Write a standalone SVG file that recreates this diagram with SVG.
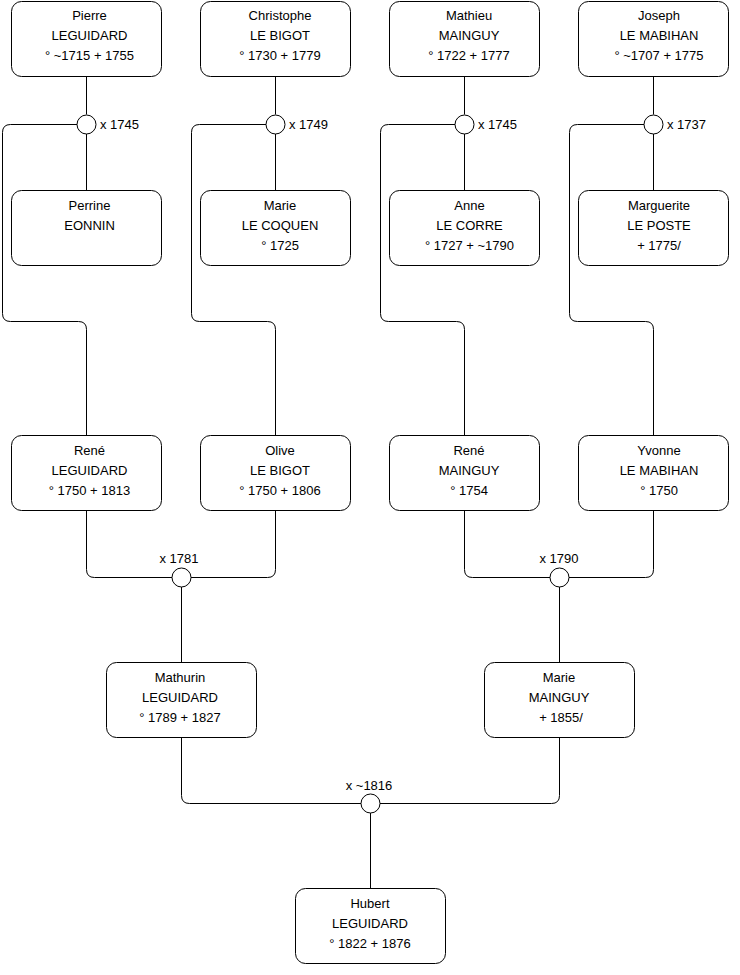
<svg xmlns="http://www.w3.org/2000/svg" width="740" height="975" viewBox="0 0 740 975">
<style>
.box{fill:#fff;stroke:#000;stroke-width:1}
.c{fill:#fff;stroke:#000;stroke-width:1}
.ln{fill:none;stroke:#000;stroke-width:1}
text{font-family:"Liberation Sans",Arial,sans-serif;font-size:13px;fill:#000}
.m{text-anchor:middle}
</style>
<rect width="740" height="975" fill="#fff"/>
<g id="connectors">
<path class="ln" d="M86.5,76 V114.5 M86.5,133.5 V190"/>
<path class="ln" d="M275.5,76 V114.5 M275.5,133.5 V190"/>
<path class="ln" d="M464.5,76 V114.5 M464.5,133.5 V190"/>
<path class="ln" d="M653.5,76 V114.5 M653.5,133.5 V190"/>
<path class="ln" d="M77,124.5 H10.5 Q2.5,124.5 2.5,132.5 V313.5 Q2.5,321.5 10.5,321.5 H78.5 Q86.5,321.5 86.5,329.5 V435"/>
<path class="ln" d="M266,124.5 H199.5 Q191.5,124.5 191.5,132.5 V313.5 Q191.5,321.5 199.5,321.5 H267.5 Q275.5,321.5 275.5,329.5 V435"/>
<path class="ln" d="M455,124.5 H388.5 Q380.5,124.5 380.5,132.5 V313.5 Q380.5,321.5 388.5,321.5 H456.5 Q464.5,321.5 464.5,329.5 V435"/>
<path class="ln" d="M644,124.5 H577.5 Q569.5,124.5 569.5,132.5 V313.5 Q569.5,321.5 577.5,321.5 H645.5 Q653.5,321.5 653.5,329.5 V435"/>
<path class="ln" d="M86.5,510 V569.5 Q86.5,577.5 94.5,577.5 H172"/>
<path class="ln" d="M275.5,510 V569.5 Q275.5,577.5 267.5,577.5 H191"/>
<path class="ln" d="M181.5,587 V662"/>
<path class="ln" d="M464.5,510 V569.5 Q464.5,577.5 472.5,577.5 H550"/>
<path class="ln" d="M653.5,510 V569.5 Q653.5,577.5 645.5,577.5 H569"/>
<path class="ln" d="M559.5,587 V662"/>
<path class="ln" d="M181.5,737 V795.5 Q181.5,803.5 189.5,803.5 H361"/>
<path class="ln" d="M559.5,737 V795.5 Q559.5,803.5 551.5,803.5 H380"/>
<path class="ln" d="M370.5,813 V888"/>
<circle class="c" cx="86.5" cy="124.5" r="9.5"/>
<circle class="c" cx="275.5" cy="124.5" r="9.5"/>
<circle class="c" cx="464.5" cy="124.5" r="9.5"/>
<circle class="c" cx="653.5" cy="124.5" r="9.5"/>
<circle class="c" cx="181.5" cy="577.5" r="9.5"/>
<circle class="c" cx="559.5" cy="577.5" r="9.5"/>
<circle class="c" cx="370.5" cy="803.5" r="9.5"/>
<text x="100" y="129">x 1745</text>
<text x="289" y="129">x 1749</text>
<text x="478" y="129">x 1745</text>
<text x="667" y="129">x 1737</text>
<text class="m" x="179" y="563">x 1781</text>
<text class="m" x="559" y="563">x 1790</text>
<text class="m" x="369" y="790">x ~1816</text>
</g>
<g id="pierre"><rect class="box" x="11.5" y="1.5" width="150" height="75" rx="10"/>
<text class="m" x="89.5" y="20">Pierre</text><text class="m" x="89.5" y="40">LEGUIDARD</text><text class="m" x="89.5" y="60">° ~1715 + 1755</text></g>
<g id="christophe"><rect class="box" x="200.5" y="1.5" width="150" height="75" rx="10"/>
<text class="m" x="280" y="20">Christophe</text><text class="m" x="280" y="40">LE BIGOT</text><text class="m" x="280" y="60">° 1730 + 1779</text></g>
<g id="mathieu"><rect class="box" x="389.5" y="1.5" width="150" height="75" rx="10"/>
<text class="m" x="469" y="20">Mathieu</text><text class="m" x="469" y="40">MAINGUY</text><text class="m" x="469" y="60">° 1722 + 1777</text></g>
<g id="joseph"><rect class="box" x="578.5" y="1.5" width="150" height="75" rx="10"/>
<text class="m" x="659" y="20">Joseph</text><text class="m" x="659" y="40">LE MABIHAN</text><text class="m" x="659" y="60">° ~1707 + 1775</text></g>
<g id="perrine"><rect class="box" x="11.5" y="190.5" width="150" height="75" rx="10"/>
<text class="m" x="89.5" y="210">Perrine</text><text class="m" x="89.5" y="230">EONNIN</text></g>
<g id="marie-lecoquen"><rect class="box" x="200.5" y="190.5" width="150" height="75" rx="10"/>
<text class="m" x="280" y="210">Marie</text><text class="m" x="280" y="230">LE COQUEN</text><text class="m" x="280" y="250">° 1725</text></g>
<g id="anne"><rect class="box" x="389.5" y="190.5" width="150" height="75" rx="10"/>
<text class="m" x="469.5" y="210">Anne</text><text class="m" x="469.5" y="230">LE CORRE</text><text class="m" x="469.5" y="250">° 1727 + ~1790</text></g>
<g id="marguerite"><rect class="box" x="578.5" y="190.5" width="150" height="75" rx="10"/>
<text class="m" x="659" y="210">Marguerite</text><text class="m" x="659" y="230">LE POSTE</text><text class="m" x="659" y="250">+ 1775/</text></g>
<g id="rene-leguidard"><rect class="box" x="11.5" y="435.5" width="150" height="75" rx="10"/>
<text class="m" x="89.5" y="455">René</text><text class="m" x="89.5" y="475">LEGUIDARD</text><text class="m" x="89.5" y="495">° 1750 + 1813</text></g>
<g id="olive"><rect class="box" x="200.5" y="435.5" width="150" height="75" rx="10"/>
<text class="m" x="280" y="455">Olive</text><text class="m" x="280" y="475">LE BIGOT</text><text class="m" x="280" y="495">° 1750 + 1806</text></g>
<g id="rene-mainguy"><rect class="box" x="389.5" y="435.5" width="150" height="75" rx="10"/>
<text class="m" x="469" y="455">René</text><text class="m" x="469" y="475">MAINGUY</text><text class="m" x="469" y="495">° 1754</text></g>
<g id="yvonne"><rect class="box" x="578.5" y="435.5" width="150" height="75" rx="10"/>
<text class="m" x="659" y="455">Yvonne</text><text class="m" x="659" y="475">LE MABIHAN</text><text class="m" x="659" y="495">° 1750</text></g>
<g id="mathurin"><rect class="box" x="106.5" y="662.5" width="150" height="75" rx="10"/>
<text class="m" x="180" y="682">Mathurin</text><text class="m" x="180" y="702">LEGUIDARD</text><text class="m" x="180" y="722">° 1789 + 1827</text></g>
<g id="marie-mainguy"><rect class="box" x="484.5" y="662.5" width="150" height="75" rx="10"/>
<text class="m" x="559" y="682">Marie</text><text class="m" x="559" y="702">MAINGUY</text><text class="m" x="561" y="722">+ 1855/</text></g>
<g id="hubert"><rect class="box" x="295.5" y="888.5" width="150" height="75" rx="10"/>
<text class="m" x="370" y="908">Hubert</text><text class="m" x="370" y="928">LEGUIDARD</text><text class="m" x="370" y="948">° 1822 + 1876</text></g>
</svg>
